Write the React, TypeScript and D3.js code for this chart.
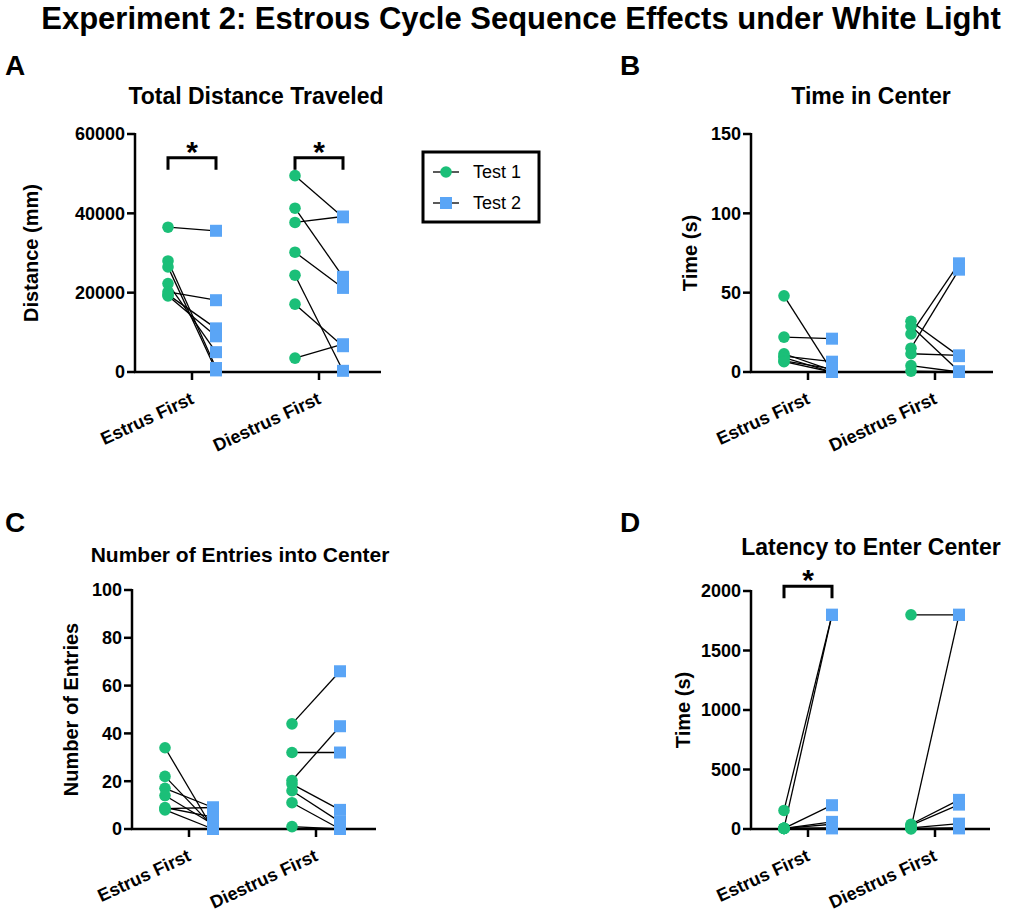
import React from "react";
import * as d3 from "d3";

const categories = ["Estrus First", "Diestrus First"];
const seriesNames = ["Test 1", "Test 2"];

// Panel A: Total Distance Traveled (mm)
const distEstrusT1 = [36500, 28000, 26500, 22300, 20200, 19500, 19200];
const distEstrusT2 = [35600, 1000, 400, 5000, 18100, 11000, 9000];
const distDiestrusT1 = [49500, 41300, 37700, 30200, 24400, 17100, 3500];
const distDiestrusT2 = [39000, 24000, 39200, 21200, 300, 6500, 7000];

// Panel B: Time in Center (s)
const timeEstrusT1 = [48, 22, 11.5, 10, 9, 7, 6.5];
const timeEstrusT2 = [0.5, 21, 1, 6.5, 0, 2, 0];
const timeDiestrusT1 = [32, 29, 24, 15, 11.5, 4, 0.5];
const timeDiestrusT2 = [10, 0.5, 68.5, 64.5, 10.5, 0, 0];

// Panel C: Number of Entries into Center
const entEstrusT1 = [34, 22, 17, 14, 8.5, 8, 9];
const entEstrusT2 = [0, 1, 9, 2, 9, 0, 5];
const entDiestrusT1 = [44, 32, 20.3, 18.8, 16, 11, 1];
const entDiestrusT2 = [66, 32, 43, 8, 3, 0, 0];

// Panel D: Latency to Enter Center (s)
const latEstrusT1 = [156, 5, 5, 5, 5, 5, 5];
const latEstrusT2 = [1800, 1800, 200, 60, 40, 10, 5];
const latDiestrusT1 = [1800, 10, 40, 30, 10, 5, 0];
const latDiestrusT2 = [1800, 1800, 245, 205, 45, 10, 5];

const ticksA = [0, 20000, 40000, 60000];
const ticksB = [0, 50, 100, 150];
const ticksC = [0, 20, 40, 60, 80, 100];
const ticksD = [0, 500, 1000, 1500, 2000];

const GREEN = "#1bbf78";
const BLUE = "#5aa5f6";
const FONT = "'Liberation Sans', Arial, sans-serif";

type PanelProps = {
  letter: string;
  title: string;
  titleSize: number;
  yLabel: string;
  axisX: number;
  yTop: number;
  yBottom: number;
  xEnd: number;
  yMax: number;
  ticks: number[];
  groups: { t1: number[]; t2: number[] }[];
  brackets: { cat: string; top: number; drop: number }[];
  letterPos: [number, number];
  titlePos: [number, number];
  yLabelX: number;
};

function Panel(p: PanelProps) {
  const y = d3.scaleLinear().domain([0, p.yMax]).range([p.yBottom, p.yTop]);
  const x = d3
    .scalePoint<string>()
    .domain(categories)
    .range([p.axisX + 57, p.axisX + 184]);
  const off = 24;
  const line = d3.line<[number, number]>();
  return (
    <g>
      <text x={p.letterPos[0]} y={p.letterPos[1]} fontSize={28} fontWeight="bold" fontFamily={FONT}>
        {p.letter}
      </text>
      <text
        x={p.titlePos[0]}
        y={p.titlePos[1]}
        fontSize={p.titleSize}
        fontWeight="bold"
        fontFamily={FONT}
        textAnchor="middle"
      >
        {p.title}
      </text>
      <text
        transform={`translate(${p.yLabelX},${(p.yTop + p.yBottom) / 2}) rotate(-90)`}
        fontSize={20}
        fontWeight="bold"
        fontFamily={FONT}
        textAnchor="middle"
      >
        {p.yLabel}
      </text>
      {/* y axis */}
      <line x1={p.axisX} x2={p.axisX} y1={p.yTop - 1} y2={p.yBottom + 1} stroke="#000" strokeWidth={2.5} />
      {p.ticks.map((t) => (
        <g key={t}>
          <line x1={p.axisX - 8} x2={p.axisX} y1={y(t)} y2={y(t)} stroke="#000" strokeWidth={2.5} />
          <text
            x={p.axisX - 10}
            y={y(t)}
            dy="0.36em"
            fontSize={18}
            fontWeight="bold"
            fontFamily={FONT}
            textAnchor="end"
          >
            {t}
          </text>
        </g>
      ))}
      {/* x axis */}
      <line x1={p.axisX - 1} x2={p.xEnd} y1={p.yBottom} y2={p.yBottom} stroke="#000" strokeWidth={2.5} />
      {categories.map((c) => (
        <g key={c}>
          <line x1={x(c)!} x2={x(c)!} y1={p.yBottom} y2={p.yBottom + 8} stroke="#000" strokeWidth={2.5} />
          <text
            transform={`translate(${x(c)! + 3},${p.yBottom + 31}) rotate(-25)`}
            fontSize={18}
            fontWeight="bold"
            fontFamily={FONT}
            textAnchor="end"
          >
            {c}
          </text>
        </g>
      ))}
      {/* lines */}
      {p.groups.map((g, gi) => {
        const cx = x(categories[gi])!;
        return (
          <g key={gi}>
            {g.t1.map((v, i) => (
              <path
                key={i}
                d={line([
                  [cx - off, y(v)],
                  [cx + off, y(g.t2[i])],
                ])!}
                stroke="#000"
                strokeWidth={1.3}
                fill="none"
              />
            ))}
            {g.t1.map((v, i) => (
              <circle key={"c" + i} cx={cx - off} cy={y(v)} r={5.8} fill={GREEN} />
            ))}
            {g.t2.map((v, i) => (
              <rect key={"r" + i} x={cx + off - 6} y={y(v) - 6} width={12} height={12} fill={BLUE} />
            ))}
          </g>
        );
      })}
      {/* brackets */}
      {p.brackets.map((b, bi) => {
        const cx = x(b.cat)!;
        const yt = y(b.top);
        const yd = y(b.drop);
        return (
          <g key={bi}>
            <path
              d={`M${cx - off},${yd} L${cx - off},${yt} L${cx + off},${yt} L${cx + off},${yd}`}
              stroke="#000"
              strokeWidth={3}
              fill="none"
            />
            <text x={cx} y={yt + 4} fontSize={30} fontWeight="bold" fontFamily={FONT} textAnchor="middle">
              *
            </text>
          </g>
        );
      })}
    </g>
  );
}

export default function App() {
  return (
    <svg width={1017} height={915} style={{ display: "block", position: "absolute", left: 0, top: 0 }}>
      <rect width={1017} height={915} fill="#fff" />
      <text x={521} y={29} fontSize={31} fontWeight="bold" fontFamily={FONT} textAnchor="middle">
        Experiment 2: Estrous Cycle Sequence Effects under White Light
      </text>
      <Panel
        letter="A"
        title="Total Distance Traveled"
        titleSize={23}
        yLabel="Distance (mm)"
        axisX={135}
        yTop={134}
        yBottom={372}
        xEnd={381}
        yMax={60000}
        ticks={ticksA}
        groups={[
          { t1: distEstrusT1, t2: distEstrusT2 },
          { t1: distDiestrusT1, t2: distDiestrusT2 },
        ]}
        brackets={[
          { cat: categories[0], top: 54000, drop: 51000 },
          { cat: categories[1], top: 54000, drop: 51000 },
        ]}
        letterPos={[5, 75]}
        titlePos={[256, 104]}
        yLabelX={38}
      />
      <Panel
        letter="B"
        title="Time in Center"
        titleSize={23}
        yLabel="Time (s)"
        axisX={751}
        yTop={134}
        yBottom={372}
        xEnd={993}
        yMax={150}
        ticks={ticksB}
        groups={[
          { t1: timeEstrusT1, t2: timeEstrusT2 },
          { t1: timeDiestrusT1, t2: timeDiestrusT2 },
        ]}
        brackets={[]}
        letterPos={[620, 75]}
        titlePos={[871, 104]}
        yLabelX={697}
      />
      <Panel
        letter="C"
        title="Number of Entries into Center"
        titleSize={21}
        yLabel="Number of Entries"
        axisX={132}
        yTop={590}
        yBottom={829}
        xEnd={376}
        yMax={100}
        ticks={ticksC}
        groups={[
          { t1: entEstrusT1, t2: entEstrusT2 },
          { t1: entDiestrusT1, t2: entDiestrusT2 },
        ]}
        brackets={[]}
        letterPos={[5, 532]}
        titlePos={[240, 562]}
        yLabelX={78}
      />
      <Panel
        letter="D"
        title="Latency to Enter Center"
        titleSize={23}
        yLabel="Time (s)"
        axisX={751}
        yTop={591}
        yBottom={829}
        xEnd={990}
        yMax={2000}
        ticks={ticksD}
        groups={[
          { t1: latEstrusT1, t2: latEstrusT2 },
          { t1: latDiestrusT1, t2: latDiestrusT2 },
        ]}
        brackets={[{ cat: categories[0], top: 2040, drop: 1940 }]}
        letterPos={[620, 532]}
        titlePos={[871, 555]}
        yLabelX={690}
      />
      {/* legend */}
      <g>
        <rect x={423} y={152} width={116} height={70} fill="#fff" stroke="#000" strokeWidth={3} />
        <line x1={433} x2={459} y1={172} y2={172} stroke="#000" strokeWidth={1.3} />
        <circle cx={446} cy={172} r={5.8} fill={GREEN} />
        <text x={473} y={172} dy="0.36em" fontSize={18} fontFamily={FONT}>
          {seriesNames[0]}
        </text>
        <line x1={433} x2={459} y1={203} y2={203} stroke="#000" strokeWidth={1.3} />
        <rect x={440} y={197} width={12} height={12} fill={BLUE} />
        <text x={473} y={203} dy="0.36em" fontSize={18} fontFamily={FONT}>
          {seriesNames[1]}
        </text>
      </g>
    </svg>
  );
}
